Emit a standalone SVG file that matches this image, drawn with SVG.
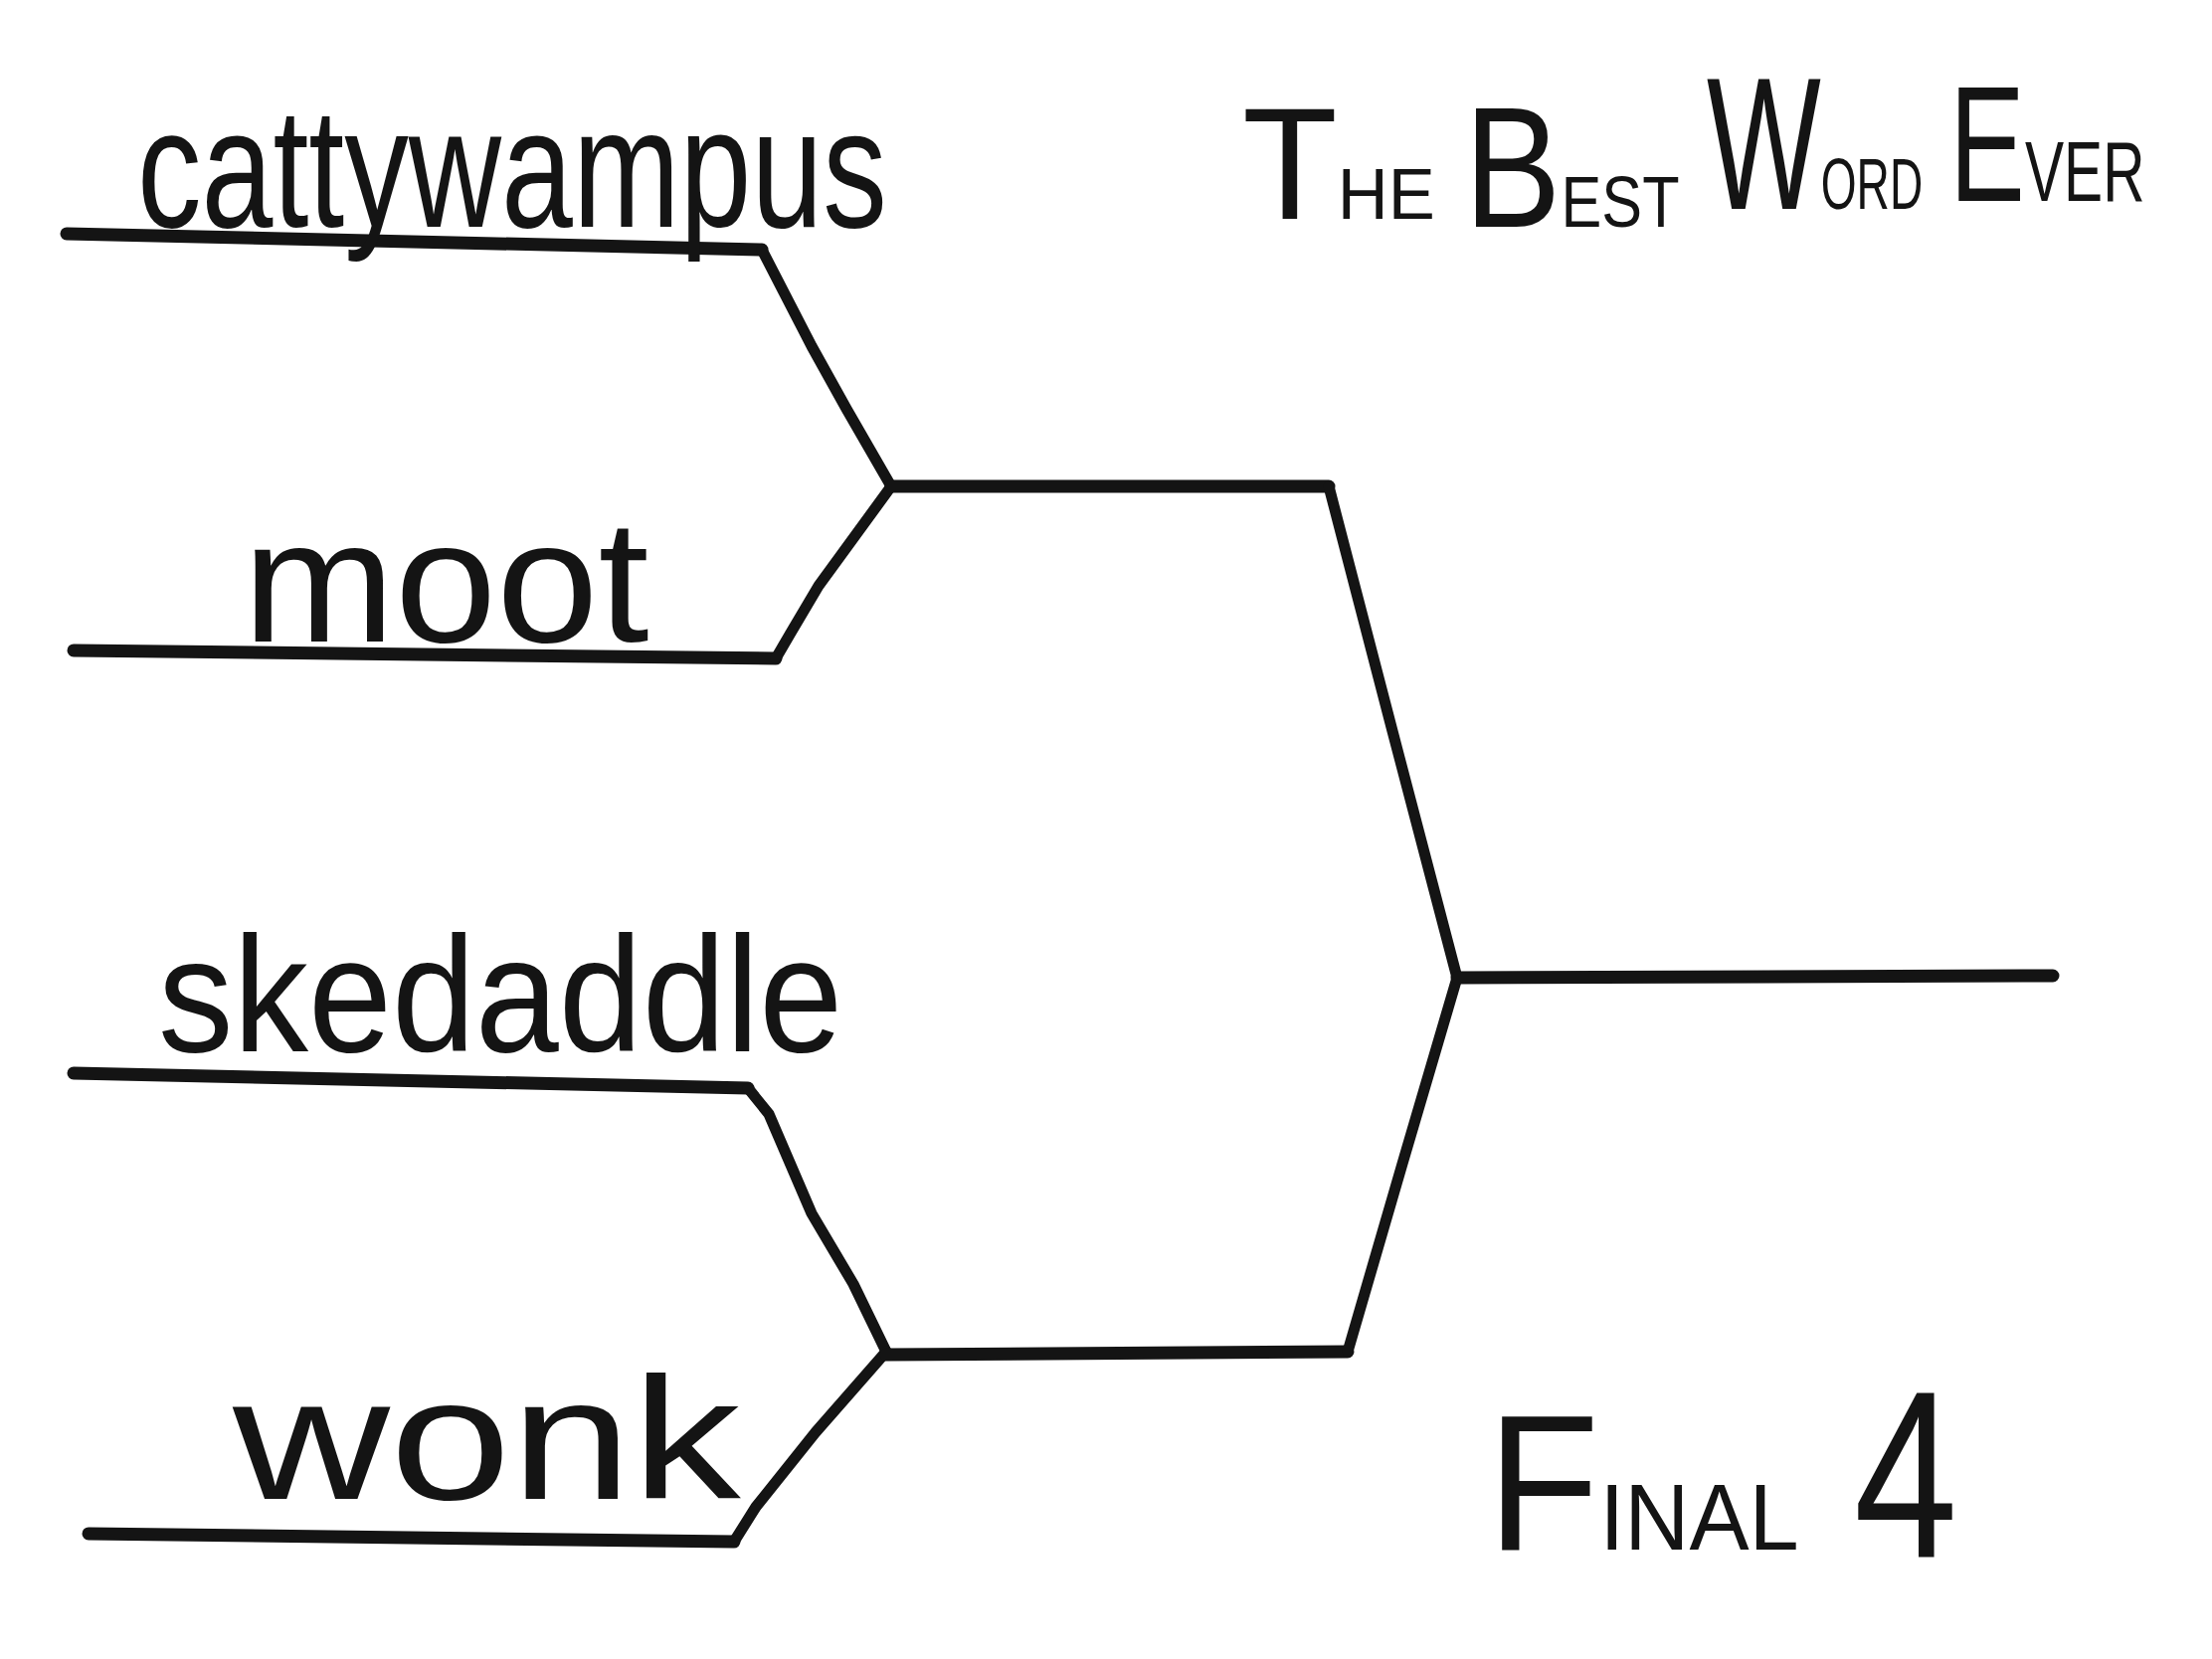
<svg xmlns="http://www.w3.org/2000/svg" width="2224" height="1668" viewBox="0 0 2224 1668">
<style>
.ln{fill:none;stroke:#141414;stroke-linecap:round;stroke-linejoin:round}
.w{font-family:"Liberation Sans","DejaVu Sans",sans-serif;fill:#141414}
</style>
<rect width="2224" height="1668" fill="#ffffff"/>
<g id="connectors" class="ln">
<polyline stroke-width="13" points="67,235 766,251"/>
<polyline stroke-width="11" points="766,251 816,348 851,411 896,489"/>
<polyline stroke-width="13" points="74,654 780,662"/>
<polyline stroke-width="11" points="780,662 794,638 823,589 896,489"/>
<polyline stroke-width="13" points="896,489 1336,489"/>
<polyline stroke-width="11" points="1336,489 1400,735 1465,983"/>
<polyline stroke-width="13" points="74,1079 752,1094"/>
<polyline stroke-width="11" points="752,1094 773,1120 816,1220 858,1291 891,1359"/>
<polyline stroke-width="13" points="89,1542 738,1550"/>
<polyline stroke-width="11" points="738,1550 760,1515 820,1440 891,1359"/>
<polyline stroke-width="13" points="891,1362 1355,1359"/>
<polyline stroke-width="11" points="1355,1359 1410,1170 1465,983"/>
<polyline stroke-width="13" points="1465,983 2064,981"/>
</g>
<g id="node-cattywampus"><text class="w" transform="translate(138,228) scale(0.76,1)" font-size="170">cattywampus</text></g>
<g id="node-moot"><text class="w" transform="translate(244,645) scale(1.05,1)" font-size="175">moot</text></g>
<g id="node-skedaddle"><text class="w" transform="translate(159,1057) scale(0.915,1)" font-size="165">skedaddle</text></g>
<g id="node-wonk"><text class="w" transform="translate(234,1507) scale(1.25,1)" font-size="175">wonk</text></g>
<g id="title">
<text class="w" transform="translate(1249,220) scale(0.98,1)" font-size="160">T<tspan font-size="72">HE</tspan></text>
<text class="w" transform="translate(1472,228) scale(0.85,1)" font-size="172">B<tspan font-size="72">EST</tspan></text>
<text class="w" transform="translate(1716,210) scale(0.64,1)" font-size="190">W<tspan font-size="72">ORD</tspan></text>
<text class="w" transform="translate(1960,202) scale(0.69,1)" font-size="165">E<tspan font-size="85">VER</tspan></text>
</g>
<g id="final4">
<text class="w" transform="translate(1495,1558) scale(0.95,1)" font-size="195">F<tspan font-size="95">INAL</tspan></text>
<text class="w" transform="translate(1864,1565) scale(0.78,1)" font-size="240">4</text>
</g>
</svg>
